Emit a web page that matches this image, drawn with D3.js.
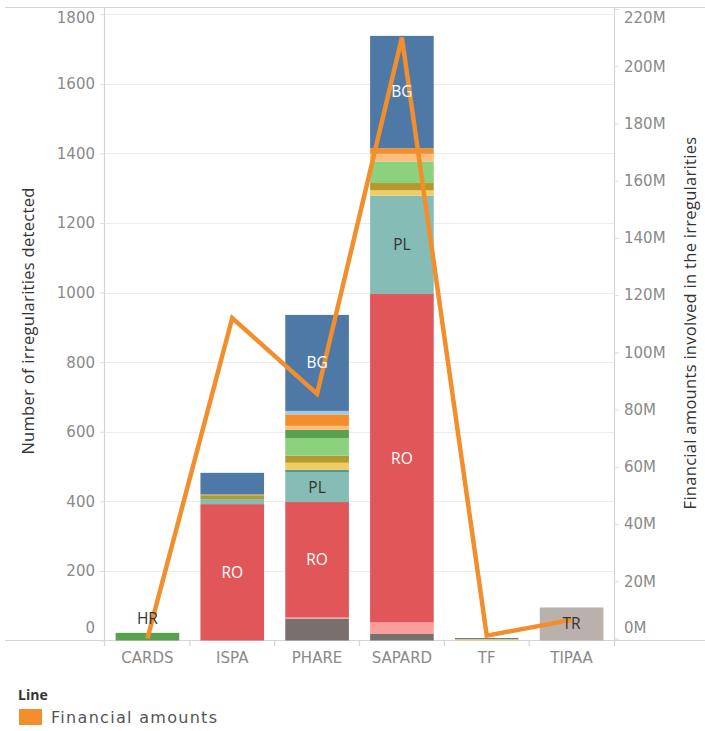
<!DOCTYPE html>
<html>
<head>
<meta charset="utf-8">
<script src="https://cdn.jsdelivr.net/npm/d3@7"></script>
<style>
  html, body { margin: 0; padding: 0; background: #fff; }
  svg { display: block; }
</style>
</head>
<body>
<svg id="chart" width="705" height="731"></svg>
<script>
// Programmes on the x axis
const programmes = ["CARDS", "ISPA", "PHARE", "SAPARD", "TF", "TIPAA"];

// Countries (colour order) and their colours
const countries = ["BG", "CY", "CZ", "EE", "HR", "HU", "LT", "LV", "MT", "PL", "RO", "SI", "SK", "TR"];
const countryColors = ["#4E79A7", "#A0CBE8", "#F28E2B", "#FFBE7D", "#59A14F", "#8CD17D", "#B6992D",
                       "#F1CE63", "#499894", "#86BCB6", "#E15759", "#FF9D9A", "#79706E", "#BAB0AC"];

// Irregularities detected per country, one value per programme
const irrBG = [0, 62, 276, 323, 3, 0];
const irrCY = [0, 0, 10, 0, 0, 0];
const irrCZ = [0, 3, 33, 16, 0, 0];
const irrEE = [0, 0, 12, 22, 0, 0];
const irrHR = [22, 4, 24, 0, 0, 0];
const irrHU = [0, 0, 50, 62, 0, 0];
const irrLT = [0, 8, 20, 21, 0, 0];
const irrLV = [0, 0, 21, 15, 4, 0];
const irrMT = [0, 0, 7, 0, 0, 0];
const irrPL = [0, 13, 85, 283, 0, 0];
const irrRO = [0, 392, 332, 944, 0, 0];
const irrSI = [0, 0, 3, 32, 0, 0];
const irrSK = [0, 0, 63, 20, 0, 0];
const irrTR = [0, 0, 0, 0, 0, 95];

// Financial amounts involved (EUR)
const financialAmounts = [0, 112e6, 85.5e6, 210e6, 1e6, 6.5e6];

// Axis ticks
const leftTicks = [0, 200, 400, 600, 800, 1000, 1200, 1400, 1600, 1800];
const rightTicks = [0, 20e6, 40e6, 60e6, 80e6, 100e6, 120e6, 140e6, 160e6, 180e6, 200e6, 220e6];

// Segments that carry a country label
const segmentLabels = [
  { programme: "CARDS", country: "HR", above: true },
  { programme: "ISPA", country: "RO" },
  { programme: "PHARE", country: "RO" },
  { programme: "PHARE", country: "PL" },
  { programme: "PHARE", country: "BG" },
  { programme: "SAPARD", country: "RO" },
  { programme: "SAPARD", country: "PL" },
  { programme: "SAPARD", country: "BG" },
  { programme: "TIPAA", country: "TR" }
];

const seriesByCountry = {
  BG: irrBG, CY: irrCY, CZ: irrCZ, EE: irrEE, HR: irrHR, HU: irrHU, LT: irrLT,
  LV: irrLV, MT: irrMT, PL: irrPL, RO: irrRO, SI: irrSI, SK: irrSK, TR: irrTR
};

const table = programmes.map((p, i) => {
  const row = { programme: p };
  countries.forEach(c => { row[c] = seriesByCountry[c][i]; });
  return row;
});

const svg = d3.select("#chart");
const plotLeft = 105, plotRight = 614, plotTop = 7, baseY = 640.5;

const x = d3.scaleBand().domain(programmes).range([plotLeft, plotRight])
  .paddingInner(0.25).paddingOuter(0.125);
const y = d3.scaleLinear().domain([0, 1821]).range([baseY, plotTop]);
const y2 = d3.scaleLinear().domain([0, 220.7e6]).range([638.5, plotTop]);
const color = d3.scaleOrdinal().domain(countries).range(countryColors);

const tickFont = "DejaVu Sans, sans-serif";
const titleFont = "Open Sans, sans-serif";

// Horizontal gridlines
svg.append("g").selectAll("line").data(leftTicks.filter(t => t > 0)).join("line")
  .attr("x1", plotLeft).attr("x2", plotRight)
  .attr("y1", d => Math.round(y(d)) + 0.5).attr("y2", d => Math.round(y(d)) + 0.5)
  .attr("stroke", "#ececec").attr("stroke-width", 1);

// Frame lines
const frame = svg.append("g").attr("stroke", "#d4d4d4").attr("stroke-width", 1.2);
frame.append("line").attr("x1", 5).attr("x2", 705).attr("y1", plotTop + 0.5).attr("y2", plotTop + 0.5);
frame.append("line").attr("x1", 5).attr("x2", 705).attr("y1", 640.5).attr("y2", 640.5);
frame.append("line").attr("x1", plotLeft - 0.5).attr("x2", plotLeft - 0.5).attr("y1", plotTop).attr("y2", 646);
frame.append("line").attr("x1", plotRight + 0.5).attr("x2", plotRight + 0.5).attr("y1", plotTop).attr("y2", 646);
// Category dividers below the baseline
const step = x.step();
frame.selectAll(".div").data(d3.range(1, programmes.length)).join("line")
  .attr("x1", i => plotLeft + i * step).attr("x2", i => plotLeft + i * step)
  .attr("y1", 640).attr("y2", 646);

// Stacked bars
const stackKeys = countries.slice().reverse();
const stacked = d3.stack().keys(stackKeys)(table);

svg.append("g").selectAll("g").data(stacked).join("g")
  .attr("fill", d => color(d.key))
  .selectAll("rect").data(d => d).join("rect")
  .attr("x", d => x(d.data.programme))
  .attr("width", x.bandwidth())
  .attr("y", d => y(d[1]))
  .attr("height", d => Math.max(0, y(d[0]) - y(d[1])));

// Financial amounts line
const line = d3.line()
  .x((d, i) => x(programmes[i]) + x.bandwidth() / 2)
  .y(d => y2(d));
svg.append("path").datum(financialAmounts)
  .attr("d", line)
  .attr("fill", "none")
  .attr("stroke", "#F28E2B")
  .attr("stroke-width", 4.5)
  .attr("stroke-linejoin", "miter");

// Segment labels
const labelG = svg.append("g").attr("font-family", titleFont).attr("font-size", 15.5).attr("text-anchor", "middle");
segmentLabels.forEach(s => {
  const layer = stacked.find(l => l.key === s.country);
  const seg = layer[programmes.indexOf(s.programme)];
  const cx = x(s.programme) + x.bandwidth() / 2;
  const cy = s.above ? y(seg[1]) - 14 : (y(seg[0]) + y(seg[1])) / 2;
  const dark = ["PL", "HR", "TR"].includes(s.country);
  labelG.append("text")
    .attr("x", cx).attr("y", cy).attr("dy", "0.35em")
    .attr("fill", dark ? "#333333" : "#ffffff")
    .text(s.country);
});

// Left axis
const leftAxis = svg.append("g").attr("transform", `translate(${plotLeft},0)`)
  .call(d3.axisLeft(y).tickValues(leftTicks).tickSize(5).tickPadding(5).tickFormat(d3.format("d")));
leftAxis.select(".domain").remove();
leftAxis.selectAll(".tick line").attr("stroke", "#dddddd");
leftAxis.selectAll(".tick text").attr("font-family", tickFont).attr("font-size", 15).attr("fill", "#8a8a8a")
  .attr("y", d => Math.min(Math.max(y(d), 18), 628) - y(d));

// Right axis
const rightAxis = svg.append("g").attr("transform", `translate(${plotRight},0)`)
  .call(d3.axisRight(y2).tickValues(rightTicks).tickSize(5).tickPadding(5).tickFormat(d => (d / 1e6) + "M"));
rightAxis.select(".domain").remove();
rightAxis.selectAll(".tick line").attr("stroke", "#dddddd");
rightAxis.selectAll(".tick text").attr("font-family", tickFont).attr("font-size", 15).attr("fill", "#8a8a8a")
  .attr("y", d => Math.min(Math.max(y2(d), 18), 628) - y2(d));

// Category labels
svg.append("g").selectAll("text").data(programmes).join("text")
  .attr("x", d => x(d) + x.bandwidth() / 2)
  .attr("y", 658).attr("dy", "0.35em")
  .attr("text-anchor", "middle")
  .attr("font-family", tickFont).attr("font-size", 15).attr("fill", "#8a8a8a")
  .text(d => d);

// Axis titles
svg.append("text")
  .attr("transform", "translate(28,321) rotate(-90)")
  .attr("text-anchor", "middle").attr("dy", "0.35em")
  .attr("font-family", titleFont).attr("font-size", 16.5).attr("letter-spacing", "0.3px").attr("fill", "#333")
  .text("Number of irregularities detected");
svg.append("text")
  .attr("transform", "translate(690,323) rotate(-90)")
  .attr("text-anchor", "middle").attr("dy", "0.35em")
  .attr("font-family", titleFont).attr("font-size", 16.5).attr("letter-spacing", "0.3px").attr("fill", "#333")
  .text("Financial amounts involved in the irregularities");

// Legend
svg.append("text").attr("x", 18).attr("y", 700)
  .attr("font-family", titleFont).attr("font-size", 14).attr("font-weight", "bold").attr("fill", "#333")
  .text("Line");
svg.append("rect").attr("x", 19).attr("y", 709).attr("width", 23).attr("height", 16).attr("fill", "#F28E2B");
svg.append("text").attr("x", 51).attr("y", 723)
  .attr("font-family", tickFont).attr("font-size", 16).attr("letter-spacing", "1.3px").attr("fill", "#555")
  .text("Financial amounts");
</script>
</body>
</html>
